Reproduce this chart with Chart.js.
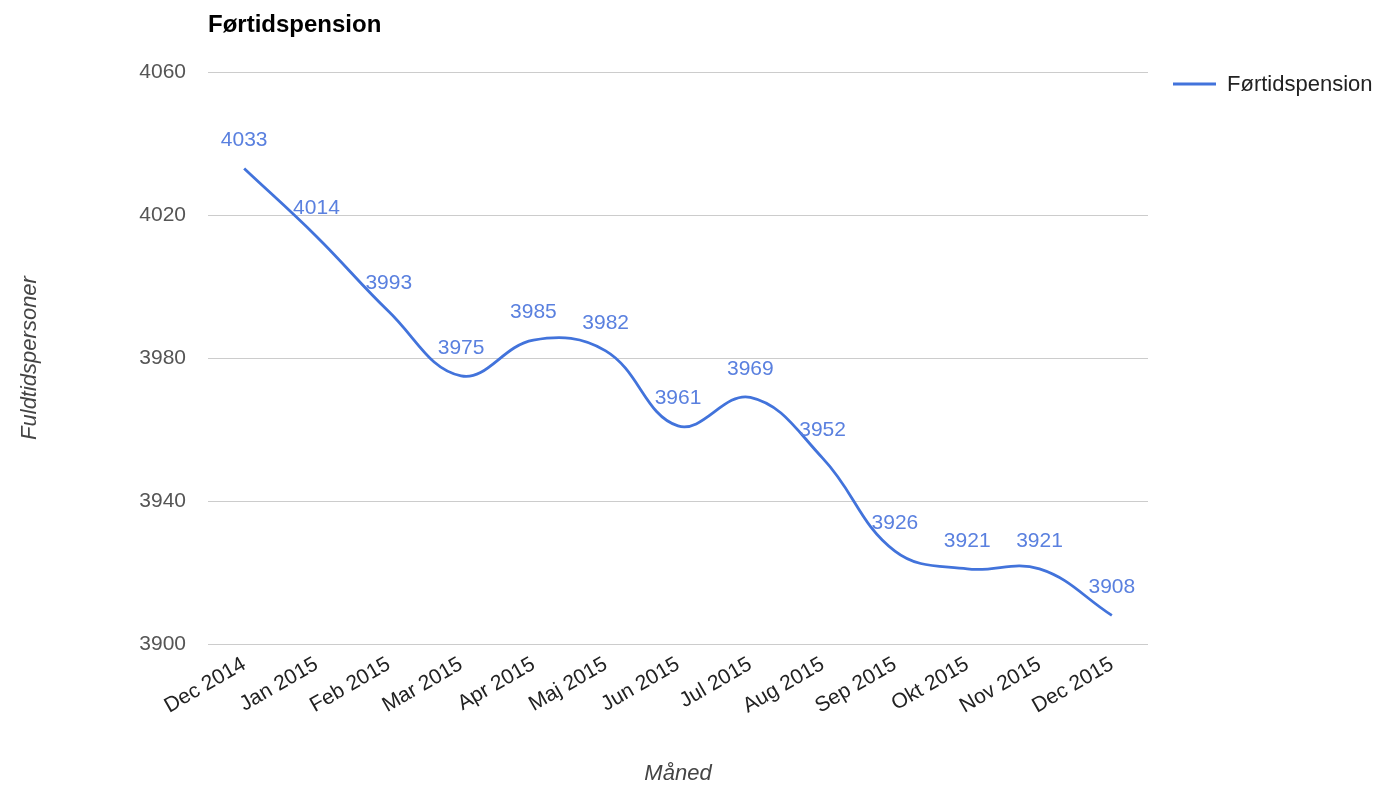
<!DOCTYPE html>
<html>
<head>
<meta charset="utf-8">
<script src="https://cdn.jsdelivr.net/npm/chart.js@4/dist/chart.umd.min.js"></script>
<style>
  html, body { margin: 0; padding: 0; background: #fff; }
  #wrap { width: 1398px; height: 789px; position: relative; }
</style>
</head>
<body>
<div id="wrap"><canvas id="c" width="1398" height="789"></canvas></div>
<script>
const chartTitle = "Førtidspension";
const seriesName = "Førtidspension";
const xAxisTitle = "Måned";
const yAxisTitle = "Fuldtidspersoner";
const months = ["Dec 2014", "Jan 2015", "Feb 2015", "Mar 2015", "Apr 2015", "Maj 2015", "Jun 2015", "Jul 2015", "Aug 2015", "Sep 2015", "Okt 2015", "Nov 2015", "Dec 2015"];
const values = [4033, 4014, 3993, 3975, 3985, 3982, 3961, 3969, 3952, 3926, 3921, 3921, 3908];
const yTicks = [3900, 3940, 3980, 4020, 4060];

const FONT = '"Liberation Sans", Arial, sans-serif';
const LINE_COLOR = '#4273db';
const LABEL_COLOR = '#5a80df';

const overlay = {
  id: 'overlay',
  afterDatasetsDraw(chart) {
    const ctx = chart.ctx;
    const meta = chart.getDatasetMeta(0);
    ctx.save();
    ctx.font = '21px ' + FONT;
    ctx.fillStyle = LABEL_COLOR;
    ctx.textAlign = 'center';
    ctx.textBaseline = 'middle';
    meta.data.forEach((pt, i) => {
      ctx.fillText(String(values[i]), pt.x, pt.y - 28);
    });
    ctx.restore();
  },
  afterDraw(chart) {
    const ctx = chart.ctx;
    ctx.save();
    // title
    ctx.font = 'bold 24px ' + FONT;
    ctx.fillStyle = '#000';
    ctx.textAlign = 'left';
    ctx.textBaseline = 'middle';
    ctx.fillText(chartTitle, 208, 25);
    // legend
    ctx.strokeStyle = LINE_COLOR;
    ctx.lineWidth = 3;
    ctx.beginPath();
    ctx.moveTo(1173, 84);
    ctx.lineTo(1216, 84);
    ctx.stroke();
    ctx.font = '22px ' + FONT;
    ctx.fillStyle = '#222';
    ctx.fillText(seriesName, 1227, 85);
    ctx.restore();
  }
};

new Chart(document.getElementById('c'), {
  type: 'line',
  data: {
    labels: months,
    datasets: [{
      label: seriesName,
      data: values,
      borderColor: LINE_COLOR,
      backgroundColor: LINE_COLOR,
      borderWidth: 2.8,
      pointRadius: 0,
      pointHoverRadius: 0,
      tension: 0.4,
      fill: false
    }]
  },
  options: {
    responsive: false,
    animation: false,
    events: [],
    layout: { padding: { top: 72, right: 250, left: 0, bottom: 0 } },
    plugins: {
      legend: { display: false },
      title: { display: false },
      tooltip: { enabled: false }
    },
    scales: {
      x: {
        offset: true,
        grid: { display: false, drawTicks: false },
        border: { display: false },
        ticks: {
          autoSkip: false,
          maxRotation: 30,
          minRotation: 30,
          padding: 8,
          color: '#222',
          font: { family: FONT, size: 21 }
        },
        title: {
          display: true,
          text: xAxisTitle,
          color: '#444',
          font: { family: FONT, size: 22, style: 'italic' },
          padding: { top: 0, bottom: 2 }
        },
        afterFit(scale) { scale.height = 145; }
      },
      y: {
        min: 3900,
        max: 4060,
        afterBuildTicks(scale) { scale.ticks = yTicks.map(v => ({ value: v })); },
        grid: { color: '#cccccc', lineWidth: 1, drawTicks: false },
        border: { display: false },
        ticks: {
          padding: 22,
          color: '#555',
          font: { family: FONT, size: 21 },
          callback: v => String(v)
        },
        title: {
          display: true,
          text: yAxisTitle,
          color: '#444',
          font: { family: FONT, size: 22, style: 'italic' },
          padding: { top: 17, bottom: 0 }
        },
        afterFit(scale) { scale.width = 208; }
      }
    }
  },
  plugins: [overlay]
});
</script>
</body>
</html>
